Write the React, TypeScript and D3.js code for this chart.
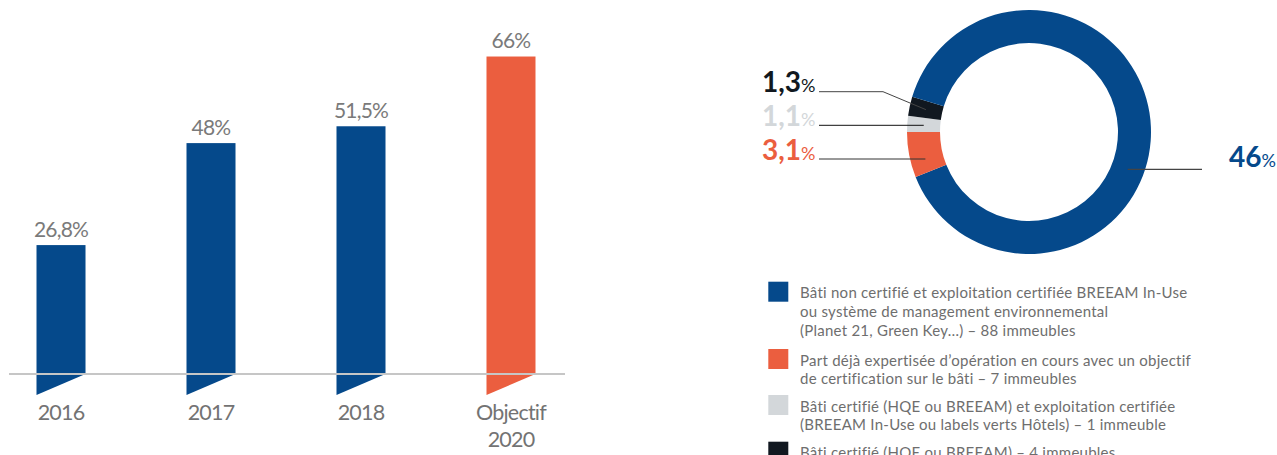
import React from "react";
import * as d3 from "d3";

const categories = ["2016", "2017", "2018", "Objectif\n2020"];
const barValues = [26.8, 48, 51.5, 66];
const barLabels = ["26,8%", "48%", "51,5%", "66%"];
const barColors = ["#05498b", "#05498b", "#05498b", "#eb5e3f"];

const donutKeys = ["gris", "noir", "bleu", "orange"];
const donutValues = [1.1, 1.3, 46, 3.1];
const donutLabels = ["1,1", "1,3", "46", "3,1"];
const donutColors = ["#d3d7da", "#111820", "#05498b", "#eb5e3f"];

const legendTexts = [
  ["Bâti non certifié et exploitation certifiée BREEAM In-Use", "ou système de management environnemental", "(Planet 21, Green Key…) – 88 immeubles"],
  ["Part déjà expertisée d’opération en cours avec un objectif", "de certification sur le bâti – 7 immeubles"],
  ["Bâti certifié (HQE ou BREEAM) et exploitation certifiée", "(BREEAM In-Use ou labels verts Hôtels) – 1 immeuble"],
  ["Bâti certifié (HQE ou BREEAM) – 4 immeubles"],
];
const legendColors = ["#05498b", "#eb5e3f", "#d3d7da", "#111820"];

const FONT = "Lato, 'Noto Sans', sans-serif";

export default function App() {
  const W = 1277, H = 455;
  const base = 374;
  const x = d3.scaleBand<number>().domain(d3.range(categories.length)).range([-14, 586]).paddingInner(0.6733).paddingOuter(0.3367);
  const y = d3.scaleLinear().domain([0, 77.75]).range([base, 0]);
  const bw = x.bandwidth();

  const cx = 1029, cy = 132, rO = 122, rI = 89, rM = (rO + rI) / 2;
  const pie = d3.pie<number>().sort(null).value((d) => d).startAngle(1.5 * Math.PI).endAngle(3.5 * Math.PI);
  const arcs = pie(donutValues);
  const arcGen = d3.arc<d3.PieArcDatum<number>>().innerRadius(rI).outerRadius(rO);
  const mid = (a: d3.PieArcDatum<number>) => {
    const m = (a.startAngle + a.endAngle) / 2;
    return [cx + rM * Math.sin(m), cy - rM * Math.cos(m)];
  };
  const gray = mid(arcs[0]);
  const black = mid(arcs[1]);
  const orange = mid(arcs[3]);
  const blueY = 169.3;
  const blueX = cx + Math.sqrt(rM * rM - (blueY - cy) * (blueY - cy));

  const legendTops = [281.7, 349, 395, 441.7];

  return (
    <svg width={W} height={H} style={{ position: "absolute", left: 0, top: 0, background: "#fff" }} fontFamily={FONT}>
      {barValues.map((v, i) => {
        const x0 = x(i)!;
        return (
          <g key={i}>
            <rect x={x0} y={y(v)} width={bw} height={base - y(v)} fill={barColors[i]} />
            <polygon points={`${x0},${base} ${x0 + bw},${base} ${x0},${base + 21}`} fill={barColors[i]} />
            <text x={x0 + bw / 2} y={y(v) - 8.5} textAnchor="middle" fontSize={21} fill="#7a7a7a" letterSpacing={-0.8}>
              {barLabels[i]}
            </text>
            {categories[i].split("\n").map((t, j) => (
              <text key={j} x={x0 + bw / 2} y={420 + j * 27} textAnchor="middle" fontSize={21.5} fill="#737373" letterSpacing={-0.8}>
                {t}
              </text>
            ))}
          </g>
        );
      })}
      <line x1={9} x2={565} y1={base} y2={base} stroke="#c6c6c6" strokeWidth={2} />

      {arcs.map((a, i) => (
        <path key={donutKeys[i]} d={arcGen(a)!} transform={`translate(${cx},${cy})`} fill={donutColors[i]} />
      ))}

      <polyline points={`819,91.7 883,91.7 ${black[0]},${black[1]}`} fill="none" stroke="#444" strokeWidth={1} />
      <line x1={819} x2={gray[0]} y1={125.3} y2={125.3} stroke="#111" strokeWidth={1} />
      <line x1={819} x2={orange[0]} y1={159} y2={159} stroke="#333" strokeWidth={1} />
      <line x1={blueX} x2={1202} y1={blueY} y2={blueY} stroke="#444" strokeWidth={1.2} />

      <text x={762} y={92} fontSize={28} fontWeight={700} fill={donutColors[1]}>
        {donutLabels[1]}<tspan fontSize={18} fontWeight={400}>%</tspan>
      </text>
      <text x={762} y={126} fontSize={28} fontWeight={700} fill={donutColors[0]}>
        {donutLabels[0]}<tspan fontSize={18} fontWeight={400}>%</tspan>
      </text>
      <text x={762} y={159.5} fontSize={28} fontWeight={700} fill={donutColors[3]}>
        {donutLabels[3]}<tspan fontSize={18} fontWeight={400}>%</tspan>
      </text>
      <text x={1229} y={167} fontSize={28} fontWeight={700} fill={donutColors[2]}>
        {donutLabels[2]}<tspan fontSize={18} fontWeight={400}>%</tspan>
      </text>

      {legendTexts.map((lines, i) => (
        <g key={i}>
          <rect x={768.3} y={legendTops[i]} width={20} height={20} fill={legendColors[i]} />
          {lines.map((t, j) => (
            <text key={j} x={800} y={legendTops[i] + 16.6 + j * 18.7} fontSize={15} letterSpacing={0.25} fill="#6e6e6e">
              {t}
            </text>
          ))}
        </g>
      ))}
    </svg>
  );
}
